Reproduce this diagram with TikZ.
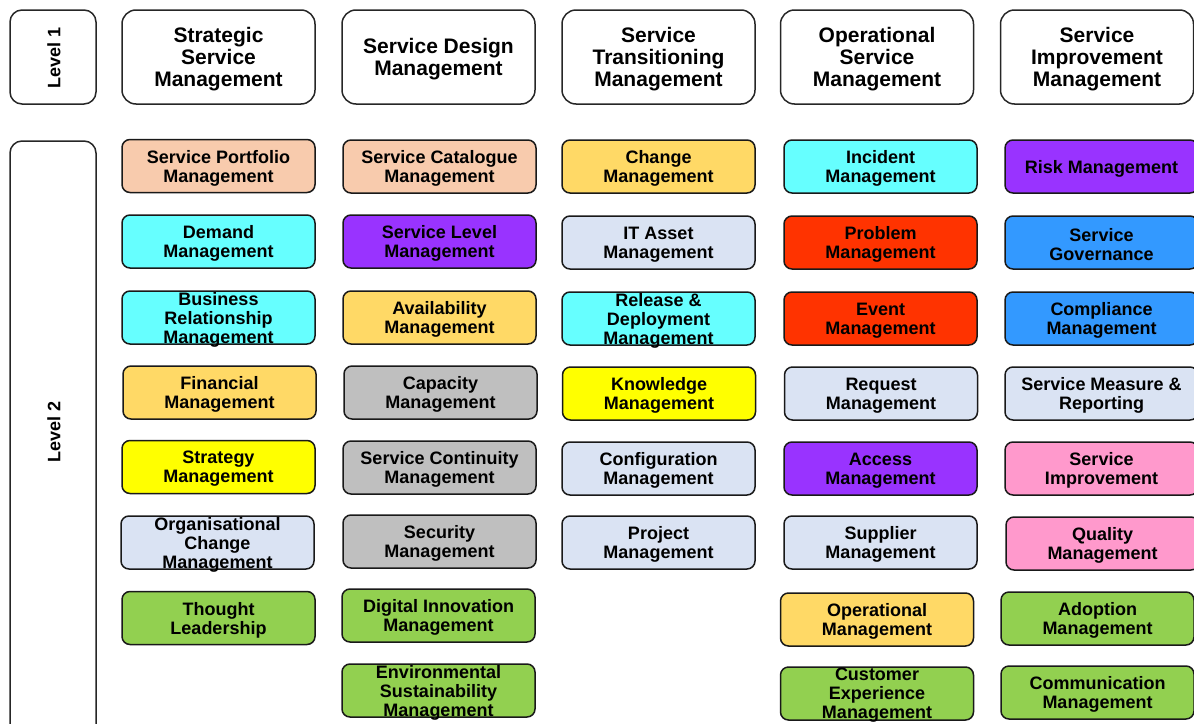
\documentclass[tikz,border=0pt]{standalone}
\usepackage{fontspec}
\setmainfont{Liberation Sans}
\usepackage{xcolor}
\usepackage{tikz}
\usetikzlibrary{positioning}

\definecolor{peach}{HTML}{F8CBAD}
\definecolor{aqua}{HTML}{66FFFF}
\definecolor{violet}{HTML}{9933FF}
\definecolor{gold}{HTML}{FFD966}
\definecolor{stone}{HTML}{BFBFBF}
\definecolor{mist}{HTML}{DAE3F3}
\definecolor{lemon}{HTML}{FFFF00}
\definecolor{leaf}{HTML}{92D050}
\definecolor{flame}{HTML}{FF3300}
\definecolor{sky}{HTML}{3399FF}
\definecolor{rose}{HTML}{FF99CC}

\tikzset{
  levelbox/.style={draw=black!85, line width=1.5pt, rounded corners=12pt, minimum width=86pt, inner sep=0pt},
  headbox/.style={draw=black!85, line width=1.5pt, rounded corners=14pt, minimum width=193pt, minimum height=94pt, inner sep=0pt},
  headtext/.style={align=center, inner sep=0pt, yshift=-2pt, font=\fontsize{21}{22}\selectfont\bfseries},
  procbox/.style={draw=black!90, line width=1.5pt, rounded corners=8pt, minimum width=193pt, minimum height=53pt, inner sep=0pt},
  proctext/.style={align=center, inner sep=0pt, yshift=-2pt, font=\fontsize{18}{19}\selectfont\bfseries},
}
\newcommand{\proc}[5]{\node[procbox, fill=#4, label={[proctext]center:{#5}}] (#1) at (#2,#3) {};}
\newcommand{\head}[4]{\node[headbox, label={[headtext]center:{#4}}] (#1) at (#2,#3) {};}

\begin{document}
\begin{tikzpicture}[x=1pt, y=-1pt]
  \useasboundingbox (0,0) rectangle (1194,723);
  \clip (0,0) rectangle (1194,723);

  % levels
  \node[levelbox, minimum height=94pt] (lvone) at (53,57) {};
  \node[rotate=90, font=\fontsize{18}{20}\selectfont\bfseries] (lvonetext) at (54,58) {Level 1};
  \node[levelbox, minimum height=600pt] (lvtwo) at (53,441) {};
  \node[rotate=90, font=\fontsize{18}{20}\selectfont\bfseries] (lvtwotext) at (54,432) {Level 2};

  % level 1 headings
  \head{strat}{218.5}{57}{Strategic\\Service\\Management}
  \head{design}{438.5}{57}{Service Design\\Management}
  \head{trans}{658.5}{57}{Service\\Transitioning\\Management}
  \head{oper}{877}{57}{Operational\\Service\\Management}
  \head{impr}{1097}{57}{Service\\Improvement\\Management}

  % strategic
  \proc{portfolio}{218.5}{166}{peach}{Service Portfolio\\Management}
  \proc{demand}{218.5}{241.5}{aqua}{Demand\\Management}
  \proc{brm}{218.5}{317.5}{aqua}{Business\\Relationship\\Management}
  \proc{financial}{219.5}{392.5}{gold}{Financial\\Management}
  \proc{strategy}{218.5}{467}{lemon}{Strategy\\Management}
  \proc{orgchange}{217.5}{542.5}{mist}{Organisational\\Change\\Management}
  \proc{thought}{218.5}{618}{leaf}{Thought\\Leadership}

  % design
  \proc{catalogue}{439.5}{166.5}{peach}{Service Catalogue\\Management}
  \proc{slm}{439.5}{241.5}{violet}{Service Level\\Management}
  \proc{avail}{439.5}{317.5}{gold}{Availability\\Management}
  \proc{capacity}{440.5}{392.5}{stone}{Capacity\\Management}
  \proc{continuity}{439.5}{467.5}{stone}{Service Continuity\\Management}
  \proc{security}{439.5}{541.5}{stone}{Security\\Management}
  \proc{digital}{438.5}{615.5}{leaf}{Digital Innovation\\Management}
  \proc{environ}{438.5}{690.5}{leaf}{Environmental\\Sustainability\\Management}

  % transition
  \proc{change}{658.5}{166.5}{gold}{Change\\Management}
  \proc{asset}{658.5}{242.5}{mist}{IT Asset\\Management}
  \proc{release}{658.5}{318.5}{aqua}{Release \&\\Deployment\\Management}
  \proc{knowledge}{659}{393.5}{lemon}{Knowledge\\Management}
  \proc{config}{658.5}{468.5}{mist}{Configuration\\Management}
  \proc{project}{658.5}{542.5}{mist}{Project\\Management}

  % operation
  \proc{incident}{880.5}{166.5}{aqua}{Incident\\Management}
  \proc{problem}{880.5}{242.5}{flame}{Problem\\Management}
  \proc{event}{880.5}{318.5}{flame}{Event\\Management}
  \proc{request}{881}{393.5}{mist}{Request\\Management}
  \proc{access}{880.5}{468.5}{violet}{Access\\Management}
  \proc{supplier}{880.5}{542.5}{mist}{Supplier\\Management}
  \proc{operational}{877}{619.5}{gold}{Operational\\Management}
  \proc{custexp}{877}{693.5}{leaf}{Customer\\Experience\\Management}

  % improvement
  \proc{risk}{1101.5}{166.5}{violet}{Risk Management}
  \proc{governance}{1101.5}{242.5}{sky}{Service\\Governance}
  \proc{compliance}{1101.5}{318.5}{sky}{Compliance\\Management}
  \proc{measure}{1101.5}{393.5}{mist}{Service Measure \&\\Reporting}
  \proc{improve}{1101.5}{468.5}{rose}{Service\\Improvement}
  \proc{quality}{1102.5}{543.5}{rose}{Quality\\Management}
  \proc{adoption}{1097.5}{618.5}{leaf}{Adoption\\Management}
  \proc{comms}{1097.5}{692.5}{leaf}{Communication\\Management}
\end{tikzpicture}
\end{document}
